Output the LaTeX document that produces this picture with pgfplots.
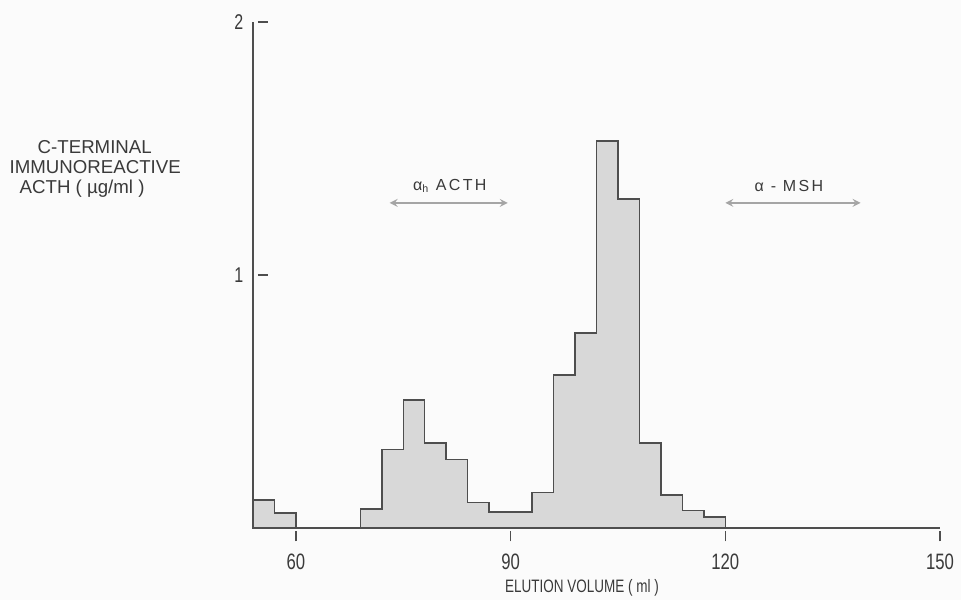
\documentclass[border=0pt]{standalone}
\usepackage{pgfplots}
\pgfplotsset{compat=1.18}
\usepackage{fontspec}
\setmainfont{Liberation Sans}
\newfontfamily\condfont[FakeStretch=0.75]{Liberation Sans}
\newfontfamily\annfont[LetterSpace=15]{Liberation Sans}
\definecolor{txt}{HTML}{3A3A3A}
\definecolor{axc}{HTML}{4E4E4E}
\definecolor{fillc}{HTML}{D8D8D8}
\definecolor{arr}{HTML}{A5A5A5}
\definecolor{bg}{HTML}{FBFBFB}
\begin{document}
\begin{tikzpicture}[x=1pt,y=1pt]
\path[use as bounding box, fill=bg] (-189.75,-54) rectangle (531,396);
\begin{axis}[
  at={(0,0)}, anchor=south west,
  scale only axis, width=515.25pt, height=379.5pt,
  xmin=54, xmax=150, ymin=0, ymax=2,
  axis x line*=bottom, axis y line*=left,
  axis line style={axc, line width=1.4pt, -},
  xtick={60,90,120,150}, ytick={1,2},
  /pgf/number format/assume math mode=true,
  tick align=inside, major tick length=7.5pt,
  xtick style={axc, line width=1pt, yshift=-10pt},
  ytick style={axc, line width=1pt, xshift=3.75pt},
  xticklabel style={font=\condfont\fontsize{16.7}{18}\selectfont, text=txt, yshift=-16pt},
  yticklabel style={font=\condfont\fontsize{16}{18}\selectfont, text=txt, xshift=-3.75pt},
  clip=false,
  xlabel={ELUTION VOLUME ( ml )},
  every axis x label/.style={at={(rel axis cs:0.479,-0.119)}, anchor=center,
    font=\condfont\fontsize{13.5}{15}\selectfont, text=txt},
  ylabel={\hspace*{21pt}C-TERMINAL\\IMMUNOREACTIVE\\\hspace*{7.5pt}ACTH ( µg/ml )},
  every axis y label/.style={at={(rel axis cs:-0.361,0.709)}, anchor=west, align=left,
    font=\fontsize{14}{15}\selectfont, text=txt},
]
\addplot[const plot, fill=fillc, draw=axc, line width=1.1pt] coordinates {
 (54,0.11) (57,0.06) (60,0) (69,0.075) (72,0.31) (75,0.506) (78,0.336)
 (81,0.27) (84,0.10) (87,0.063) (90,0.063) (93,0.14) (96,0.605) (99,0.77)
 (102,1.53) (105,1.30) (108,0.336) (111,0.13) (114,0.07) (117,0.043) (120,0.043)
} \closedcycle;
\draw[<->, >=stealth, arr, line width=1.6pt] (axis cs:73.1,1.285) -- (axis cs:89.6,1.285);
\draw[<->, >=stealth, arr, line width=1.6pt] (axis cs:120,1.285) -- (axis cs:138.9,1.285);
\node[font=\annfont\fontsize{12}{13}\selectfont, text=txt] at (axis cs:81.5,1.352) {α\textsubscript{h} ACTH};
\node[font=\annfont\fontsize{12}{13}\selectfont, text=txt] at (axis cs:128.9,1.352) {α - MSH};
\end{axis}
\end{tikzpicture}
\end{document}
